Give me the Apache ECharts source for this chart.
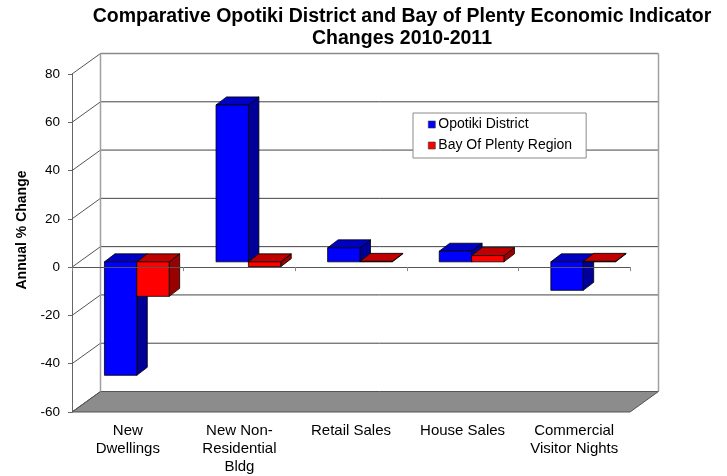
<!DOCTYPE html>
<html>
<head>
<meta charset="utf-8">
<title>Opotiki District and Bay of Plenty Economic Indicator Changes 2010-2011</title>
<script src="https://cdn.jsdelivr.net/npm/echarts@6/dist/echarts.min.js"></script>
<style>
  html, body { margin: 0; padding: 0; background: #fff; }
  #chart { width: 727px; height: 476px; }
</style>
</head>
<body>
<div id="chart"></div>
<script>
// Indicator categories (x axis)
const categories = [
  'New\nDwellings',
  'New Non-\nResidential\nBldg',
  'Retail Sales',
  'House Sales',
  'Commercial\nVisitor Nights'
];

// Annual % change, 2010-2011
const opotikiDistrict = [-47, 65, 5.8, 4.4, -11.8];
const bayOfPlentyRegion = [-14.3, -2, 0.2, 2.6, 0.2];

// Value axis ticks
const yTicks = [-60, -40, -20, 0, 20, 40, 60, 80];
const yMin = -60, yMax = 80, yStep = 20;

const FONT = '"Liberation Sans", Arial, Helvetica, sans-serif';

// Oblique projection offsets (pixels)
const WALL_DX = 28.5, WALL_DY = 20.5;   // front plane -> back wall
const BAR_DX = 9, BAR_DY = 5.3;         // front plane -> bar front faces
const DEPTH_DX = 10.5, DEPTH_DY = 8;    // bar depth
const BAR_FRAC = 0.29;                  // bar width as a share of the category band

// Back wall grid lines, left wall diagonals and the floor
function renderFrame(params, api) {
  const v = api.value(1);
  const bw = api.size([1, 0])[0];
  const p = api.coord([0, v]);
  const xL = p[0] - bw / 2;
  const xR = api.coord([categories.length - 1, v])[0] + bw / 2;
  const y = p[1];
  const children = [];
  if (v === yMin) {
    children.push({
      type: 'polygon',
      shape: { points: [[xL, y], [xR, y], [xR + WALL_DX, y - WALL_DY], [xL + WALL_DX, y - WALL_DY]] },
      style: { fill: '#8c8c8c', stroke: '#555', lineWidth: 1 }
    });
  } else {
    children.push({
      type: 'line',
      shape: { x1: xL + WALL_DX, y1: y - WALL_DY, x2: xR + WALL_DX, y2: y - WALL_DY },
      style: { stroke: v === yMax ? '#8a8a8a' : '#444', lineWidth: v === yMax ? 1.5 : 1 }
    });
  }
  children.push({
    type: 'line',
    shape: { x1: xL, y1: y, x2: xL + WALL_DX, y2: y - WALL_DY },
    style: { stroke: '#555', lineWidth: 1 }
  });
  if (v === yMax) {
    const yBottom = api.coord([0, yMin])[1] - WALL_DY;
    children.push({
      type: 'line',
      shape: { x1: xL + WALL_DX, y1: y - WALL_DY, x2: xL + WALL_DX, y2: yBottom },
      style: { stroke: '#a0a0a0', lineWidth: 1.5 }
    });
    children.push({
      type: 'line',
      shape: { x1: xR + WALL_DX, y1: y - WALL_DY, x2: xR + WALL_DX, y2: yBottom },
      style: { stroke: '#a0a0a0', lineWidth: 1.5 }
    });
  }
  return { type: 'group', children: children };
}

// 3D box for one bar: front face, top face, right side face
function barRenderer(slot, front, top, side) {
  return function (params, api) {
    const i = api.value(0);
    const v = api.value(1);
    const bw = api.size([1, 0])[0];
    const w = bw * BAR_FRAC;
    const base = api.coord([i, 0]);
    const cx = base[0];
    const y0 = base[1] - BAR_DY;
    const yv = api.coord([i, v])[1] - BAR_DY;
    const x1 = cx + BAR_DX + (slot === 0 ? -w : 0);
    const x2 = x1 + w;
    const yT = Math.min(y0, yv);
    const yB = Math.max(y0, yv);
    const edge = { stroke: '#000', lineWidth: 0.8, lineJoin: 'round' };
    return {
      type: 'group',
      children: [
        {
          type: 'polygon',
          shape: { points: [[x2, yT], [x2 + DEPTH_DX, yT - DEPTH_DY], [x2 + DEPTH_DX, yB - DEPTH_DY], [x2, yB]] },
          style: Object.assign({ fill: side }, edge)
        },
        {
          type: 'polygon',
          shape: { points: [[x1, yT], [x2, yT], [x2 + DEPTH_DX, yT - DEPTH_DY], [x1 + DEPTH_DX, yT - DEPTH_DY]] },
          style: Object.assign({ fill: top }, edge)
        },
        {
          type: 'rect',
          shape: { x: x1, y: yT, width: w, height: Math.max(yB - yT, 0.5) },
          style: Object.assign({ fill: front }, edge)
        }
      ]
    };
  };
}

const chart = echarts.init(document.getElementById('chart'), null, { renderer: 'canvas' });

chart.setOption({
  backgroundColor: '#fff',
  animation: false,
  title: {
    text: 'Comparative Opotiki District and Bay of Plenty Economic Indicator\nChanges 2010-2011',
    left: 397,
    top: 1,
    textAlign: 'center',
    textStyle: { fontFamily: FONT, fontSize: 19.5, fontWeight: 'bold', color: '#000', lineHeight: 22 }
  },
  legend: {
    orient: 'vertical',
    left: 413,
    top: 113,
    width: 173,
    padding: [4, 14, 5, 15],
    itemGap: 6,
    itemWidth: 7,
    itemHeight: 7,
    icon: 'rect',
    backgroundColor: '#fff',
    borderColor: '#8a8a8a',
    borderWidth: 1,
    itemStyle: { borderColor: '#333', borderWidth: 0.6 },
    textStyle: { fontFamily: FONT, fontSize: 14, color: '#000', lineHeight: 15, padding: [0, 0, 0, -2] },
    z: 10,
    data: ['Opotiki District', 'Bay Of Plenty Region']
  },
  grid: { left: 72, right: 97, top: 74, bottom: 62 },
  xAxis: [
    {
      type: 'category',
      data: categories,
      z: 5,
      axisLine: { show: true, onZero: true, lineStyle: { color: '#555', width: 1 } },
      axisTick: { show: true, length: 4, lineStyle: { color: '#888' } },
      axisLabel: { show: false },
      splitLine: { show: false }
    },
    {
      type: 'category',
      data: categories,
      position: 'bottom',
      axisLine: { show: false, onZero: false },
      axisTick: { show: false },
      axisLabel: {
        interval: 0, margin: 10,
        fontFamily: FONT, fontSize: 15, lineHeight: 18, color: '#000'
      },
      splitLine: { show: false }
    }
  ],
  yAxis: {
    type: 'value',
    min: yMin,
    max: yMax,
    interval: yStep,
    axisLine: { show: true, onZero: false, lineStyle: { color: '#666', width: 1 } },
    axisTick: { show: true, length: 4, lineStyle: { color: '#666' } },
    axisLabel: { margin: 12, fontFamily: FONT, fontSize: 13.5, color: '#000' },
    splitLine: { show: false }
  },
  graphic: [
    {
      type: 'text',
      x: 22,
      y: 230,
      rotation: Math.PI / 2,
      style: {
        text: 'Annual % Change',
        font: 'bold 14px ' + FONT,
        fill: '#000',
        align: 'center',
        verticalAlign: 'middle'
      }
    }
  ],
  series: [
    {
      name: 'frame',
      type: 'custom',
      xAxisIndex: 0,
      yAxisIndex: 0,
      z: 1,
      silent: true,
      clip: false,
      renderItem: renderFrame,
      data: yTicks.map(function (v) { return [0, v]; })
    },
    {
      name: 'Opotiki District',
      type: 'custom',
      xAxisIndex: 0,
      yAxisIndex: 0,
      z: 2,
      clip: false,
      itemStyle: { color: '#0000ff' },
      renderItem: barRenderer(0, '#0000ff', '#0000c4', '#000099'),
      data: opotikiDistrict.map(function (v, i) { return [i, v]; })
    },
    {
      name: 'Bay Of Plenty Region',
      type: 'custom',
      xAxisIndex: 0,
      yAxisIndex: 0,
      z: 2,
      clip: false,
      itemStyle: { color: '#ff0000' },
      renderItem: barRenderer(1, '#ff0000', '#c00000', '#990000'),
      data: bayOfPlentyRegion.map(function (v, i) { return [i, v]; })
    }
  ]
});
</script>
</body>
</html>
